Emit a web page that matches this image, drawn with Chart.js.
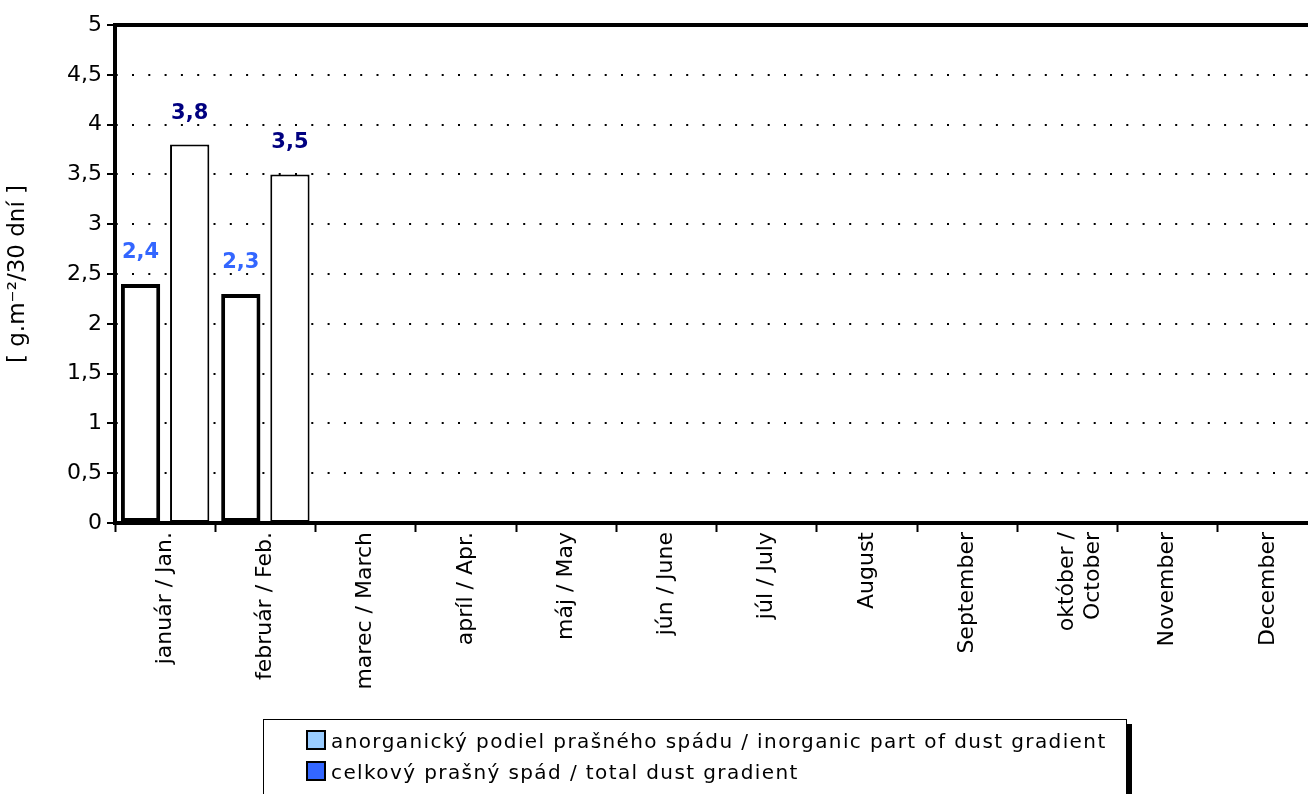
<!DOCTYPE html>
<html><head><meta charset="utf-8">
<script src="https://cdn.jsdelivr.net/npm/chart.js@4"></script>
<style>
html,body{margin:0;padding:0;overflow:hidden;background:#fff;width:1308px;height:794px}
#wrap{position:relative;width:1308px;height:794px;overflow:hidden}
#c{position:absolute;left:0;top:0}
#legend{position:absolute;left:263px;top:719px;width:862px;height:90px;border:1px solid #000;box-shadow:5px 5px 0 #000;background:#fff;font-family:"DejaVu Sans",sans-serif;font-size:20px;letter-spacing:1.4px;color:#000}
.row{position:absolute;left:42px;height:24px;line-height:24px;white-space:nowrap}
.sw{display:inline-block;width:16px;height:16px;border:2px solid #000;vertical-align:-2px;margin-right:5px}
</style></head>
<body><div id="wrap"><canvas id="c" width="1322" height="794"></canvas><div id="legend"></div></div>
<script>
const categories = ["január / Jan.", "február / Feb.", "marec / March", "apríl / Apr.", "máj / May", "jún / June", "júl / July", "August", "September", ["október /", "October"], "November", "December"];
const seriesNames = ["anorganický podiel prašného spádu / inorganic part of dust gradient", "celkový prašný spád / total dust gradient"];
const inorganic = [2.4, 2.3, null, null, null, null, null, null, null, null, null, null];
const total = [3.8, 3.5, null, null, null, null, null, null, null, null, null, null];
const legendColors = ["#99CCFF", "#3366FF"];
const labelColors = ["#3366FF", "#000080"];
const yMin = 0, yMax = 5, yStep = 0.5;
const yTitle = "[ g.m\u207B\u00B2/30 dní ]";

const FONT = '"DejaVu Sans", sans-serif';

const valueLabels = {
  id: 'valueLabels',
  afterDatasetsDraw(chart) {
    const ctx = chart.ctx;
    ctx.save();
    ctx.font = 'bold 21px ' + FONT;
    ctx.textAlign = 'center';
    ctx.textBaseline = 'alphabetic';
    chart.data.datasets.forEach((ds, i) => {
      const meta = chart.getDatasetMeta(i);
      meta.data.forEach((el, j) => {
        const v = ds.data[j];
        if (v === null || v === undefined) return;
        ctx.fillStyle = labelColors[i];
        ctx.fillText(String(v).replace('.', ','), el.x, el.y - 26);
      });
    });
    ctx.restore();
  }
};

const frame = {
  id: 'frame',
  afterDraw(chart) {
    const a = chart.chartArea, ctx = chart.ctx;
    ctx.save();
    ctx.strokeStyle = '#000';
    ctx.lineWidth = 4;
    ctx.beginPath();
    ctx.moveTo(a.left - 2, a.top);
    ctx.lineTo(a.right + 10, a.top);
    ctx.stroke();
    ctx.restore();
  }
};

new Chart(document.getElementById('c'), {
  type: 'bar',
  data: {
    labels: categories,
    datasets: [
      { label: seriesNames[0], data: inorganic, backgroundColor: '#fff', borderColor: '#000', borderWidth: 4, borderSkipped: false },
      { label: seriesNames[1], data: total, backgroundColor: '#fff', borderColor: '#000', borderWidth: 2, borderSkipped: false }
    ]
  },
  options: {
    responsive: false,
    animation: false,
    devicePixelRatio: 1,
    categoryPercentage: 0.98,
    barPercentage: 0.8,
    layout: { padding: { top: 25, right: 4, bottom: 0, left: 0 } },
    plugins: { legend: { display: false }, tooltip: { enabled: false } },
    scales: {
      x: {
        afterFit(s) { s.height = 271; },
        grid: { display: true, drawOnChartArea: false, drawTicks: true, tickLength: 9, tickColor: '#000', tickWidth: 2, offset: true },
        border: { display: true, color: '#000', width: 4 },
        ticks: { color: '#000', font: { family: FONT, size: 22 }, maxRotation: 90, minRotation: 90, padding: 0, autoSkip: false }
      },
      y: {
        min: yMin, max: yMax,
        afterFit(s) { s.width = 115; },
        grid: { color: '#000', lineWidth: 2, drawTicks: true, tickLength: 8, tickColor: '#000', tickWidth: 2, tickBorderDash: [] },
        border: { display: true, color: '#000', width: 4, dash: [2, 14.3], dashOffset: 1.3 },
        ticks: { stepSize: yStep, color: '#000', padding: 5, font: { family: FONT, size: 22 }, callback: v => String(v).replace('.', ',') },
        title: { display: true, text: yTitle, color: '#000', font: { family: FONT, size: 23 }, padding: { top: 4, bottom: 0 } }
      }
    }
  },
  plugins: [valueLabels, frame]
});

const lg = document.getElementById('legend');
seriesNames.forEach((n, i) => {
  const r = document.createElement('div');
  r.className = 'row';
  r.style.top = (9 + i * 31) + 'px';
  const s = document.createElement('span');
  s.className = 'sw';
  s.style.background = legendColors[i];
  r.appendChild(s);
  r.appendChild(document.createTextNode(n));
  lg.appendChild(r);
});
</script></body></html>
